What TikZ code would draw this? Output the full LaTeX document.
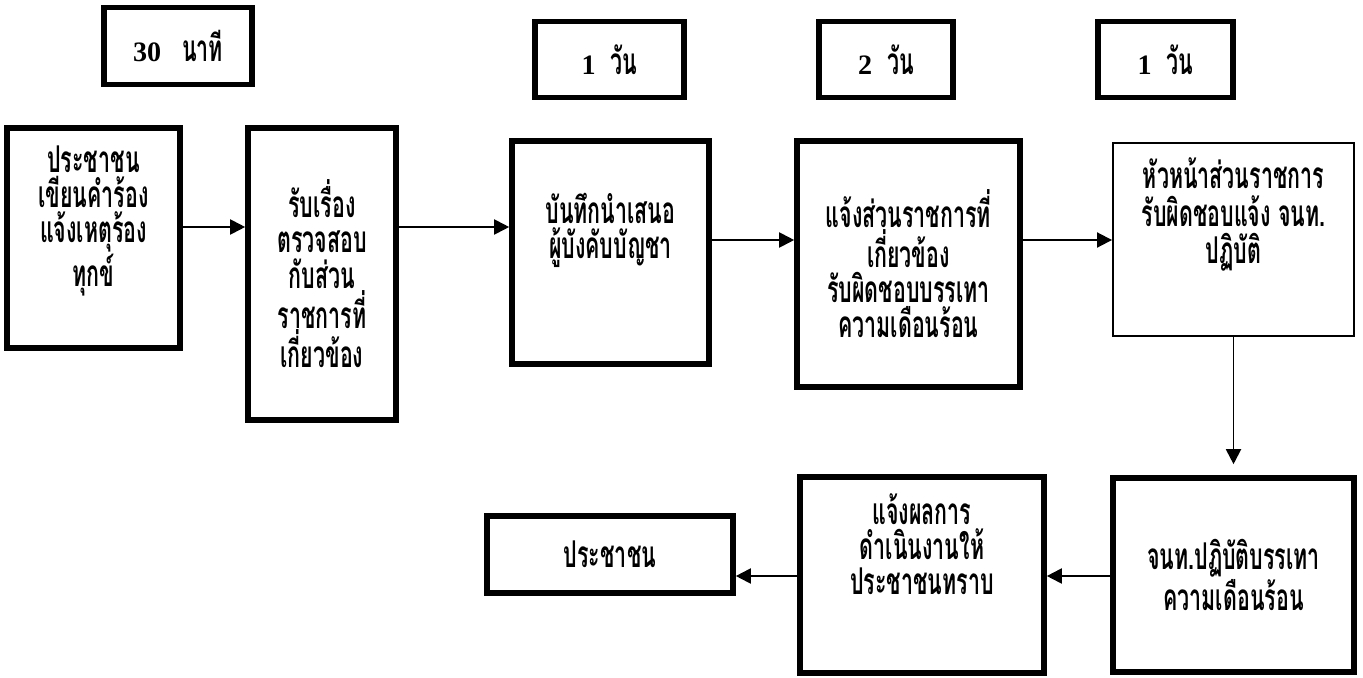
\documentclass[tikz,border=0pt]{standalone}
\usepackage{fontspec}
\setmainfont{Liberation Serif}
\newfontfamily\thaifont[Script=Thai, FakeStretch=0.58]{Loma}
\usepackage{tikz}
\usetikzlibrary{arrows.meta, positioning, calc}

\begin{document}
\begin{tikzpicture}[
        box/.style={draw, line width=3.2pt, inner sep=0pt, align=center,
            font=\thaifont\bfseries\fontsize{21}{20}\selectfont},
        thinbox/.style={box, line width=1.1pt},
        timebox/.style={draw, line width=3pt, inner sep=0pt, minimum height=1.53cm,
            font=\bfseries\fontsize{16}{18}\selectfont},
        txt/.style={inner sep=0pt, align=center,
            font=\thaifont\bfseries\fontsize{21}{20}\selectfont},
        arr/.style={-{Triangle[length=0.3cm, width=0.3cm]}, line width=1.1pt}
    ]
            \useasboundingbox (0,0) rectangle (27.26,-13.54);

            % time boxes
            \node[timebox, minimum width=2.96cm] (t1) at (3.56,-0.92) {30\hspace{0.42cm}{\thaifont\fontsize{21}{20}\selectfont นาที}};
            \node[timebox, minimum width=2.98cm] (t2) at (12.19,-1.19) {1\hspace{0.3cm}{\thaifont\fontsize{21}{20}\selectfont วัน}};
            \node[timebox, minimum width=2.68cm] (t3) at (17.72,-1.19) {2\hspace{0.3cm}{\thaifont\fontsize{21}{20}\selectfont วัน}};
            \node[timebox, minimum width=2.70cm] (t4) at (23.31,-1.19) {1\hspace{0.3cm}{\thaifont\fontsize{21}{20}\selectfont วัน}};

            % upper row
            \node[box, minimum width=3.46cm, minimum height=4.40cm] (pub) at (1.87,-4.76) {};
            \node[txt, below=0.4cm of pub.north] {ประชาชน\\เขียนคำร้อง\\แจ้งเหตุร้อง\\ทุกข์};
            \node[box, minimum width=2.96cm, minimum height=5.84cm] (recv) at (6.44,-5.48)
                {รับเรื่อง\\ตรวจสอบ\\กับส่วน\\ราชการที่\\เกี่ยวข้อง};
            \node[box, minimum width=3.94cm, minimum height=4.46cm] (memo) at (12.21,-5.05) {};
            \node[txt, below=1.1cm of memo.north] {บันทึกนำเสนอ\\ผู้บังคับบัญชา};
            \node[box, minimum width=4.46cm, minimum height=4.92cm] (notify) at (18.17,-5.28)
                {แจ้งส่วนราชการที่\\เกี่ยวข้อง\\รับผิดชอบบรรเทา\\ความเดือนร้อน};
            \node[thinbox, minimum width=4.82cm, minimum height=3.86cm] (head) at (24.67,-4.79) {};
            \node[txt, below=0.3cm of head.north, font=\thaifont\bfseries\fontsize{21}{21.5}\selectfont]
                {หัวหน้าส่วนราชการ\\รับผิดชอบแจ้ง จนท.\\ปฏิบัติ};

            % lower row
            \node[box, minimum width=4.82cm, minimum height=3.88cm] (staff) at (24.67,-11.5)
                {จนท.ปฏิบัติบรรเทา\\ความเดือนร้อน};
            \node[box, minimum width=4.88cm, minimum height=3.92cm] (report) at (18.44,-11.5) {};
            \node[txt, below=0.38cm of report.north] {แจ้งผลการ\\ดำเนินงานให้\\ประชาชนทราบ};
            \node[box, minimum width=4.92cm, minimum height=1.54cm] (citizen) at (12.2,-11.09) {ประชาชน};

            % connectors
            \draw[arr] (pub.east |- 0,-4.54) -- (recv.west |- 0,-4.54);
            \draw[arr] (recv.east |- 0,-4.54) -- (memo.west |- 0,-4.54);
            \draw[arr] (memo.east |- 0,-4.80) -- (notify.west |- 0,-4.80);
            \draw[arr] (notify.east |- 0,-4.80) -- (head.west |- 0,-4.80);
            \draw[arr, shorten >=0.22cm] (head.south) -- (staff.north);
            \draw[arr] (staff.west |- 0,-11.52) -- (report.east |- 0,-11.52);
            \draw[arr] (report.west |- 0,-11.52) -- (citizen.east |- 0,-11.52);
        \end{tikzpicture}
\end{document}
